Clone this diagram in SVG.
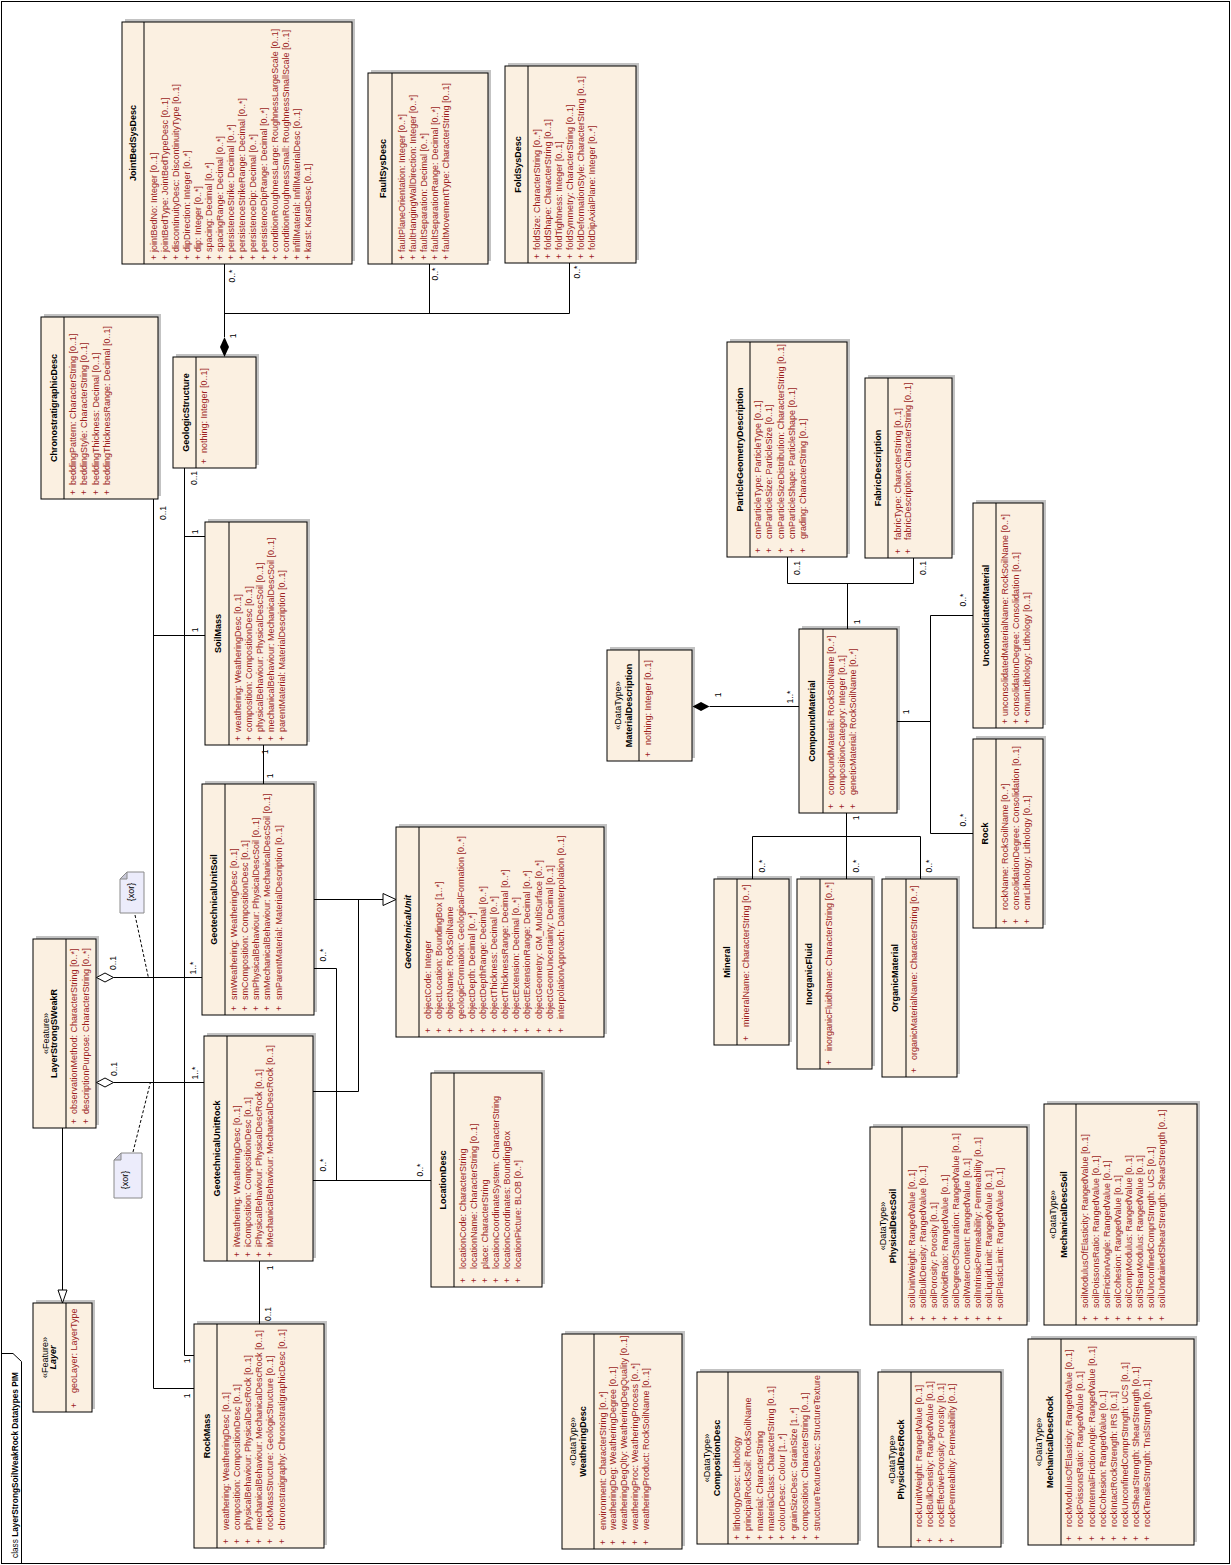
<svg xmlns="http://www.w3.org/2000/svg" width="1231" height="1565" viewBox="0 0 1231 1565" xml:space="preserve">
<defs>
<style>
text{font-family:"Liberation Sans",Arial,sans-serif;font-size:9px}
.bx{fill:#fbf0e1;stroke:#000;stroke-width:1}
.sh{fill:#c3c3c3}
.dv{stroke:#000;stroke-width:1}
.t{font-weight:bold;text-anchor:middle;fill:#000}
.ti{font-weight:bold;font-style:italic;text-anchor:middle;fill:#000}
.s{text-anchor:middle;fill:#000}
.a{fill:#9c1e1e}
.c{fill:none;stroke:#000;stroke-width:1}
.h{fill:#fff;stroke:#000;stroke-width:1}
.l{text-anchor:middle;fill:#000;font-size:8.5px}
.nt{fill:#ececfb;stroke:#8a8a8a}
.nf{fill:#c8c8d8;stroke:#8a8a8a}
.dash{fill:none;stroke:#000;stroke-dasharray:3,2}
</style>
<clipPath id="cpComp"><rect x="0" y="0" width="172" height="161"/></clipPath>
</defs>
<rect width="1231" height="1565" fill="#fff"/>
<g id="frame">
<rect x="1.5" y="1.5" width="1228" height="1562" fill="none" stroke="#000"/>
<path d="M21.5,1563.5 V1361.5 L13,1353.5 H1.5" fill="none" stroke="#000"/>
<text transform="translate(18,1558) rotate(-90)" font-size="8.5px" textLength="186" lengthAdjust="spacingAndGlyphs">class <tspan font-weight="bold">LayerStrongSoilWeakRock Datatypes PIM</tspan></text>
</g>

<g id="JoinBedSysDesc" transform="translate(122,264) rotate(-90)">
<rect class="sh" x="3" y="3" width="242" height="230"/>
<rect class="bx" width="242" height="230"/>
<line class="dv" x1="0" y1="22" x2="242" y2="22"/>
<text class="t" x="121" y="14">JointBedSysDesc</text>
<text class="a" x="4" y="35">+<tspan x="12">jointBedNo:  Integer [0..1]</tspan></text>
<text class="a" x="4" y="46">+<tspan x="12">jointBedType:  JointBedTypeDesc [0..1]</tspan></text>
<text class="a" x="4" y="57">+<tspan x="12">discontinuityDesc:  DiscontinuityType [0..1]</tspan></text>
<text class="a" x="4" y="68">+<tspan x="12">dipDirection:  Integer [0..*]</tspan></text>
<text class="a" x="4" y="79">+<tspan x="12">dip:  Integer [0..*]</tspan></text>
<text class="a" x="4" y="90">+<tspan x="12">spacing:  Decimal [0..*]</tspan></text>
<text class="a" x="4" y="101">+<tspan x="12">spacingRange:  Decimal [0..*]</tspan></text>
<text class="a" x="4" y="112">+<tspan x="12">persistenceStrike:  Decimal [0..*]</tspan></text>
<text class="a" x="4" y="123">+<tspan x="12">persistenceStrikeRange:  Decimal [0..*]</tspan></text>
<text class="a" x="4" y="134">+<tspan x="12">persistenceDip:  Decimal [0..*]</tspan></text>
<text class="a" x="4" y="145">+<tspan x="12">persistenceDipRange:  Decimal [0..*]</tspan></text>
<text class="a" x="4" y="156">+<tspan x="12">conditionRoughnessLarge:  RoughnessLargeScale [0..1]</tspan></text>
<text class="a" x="4" y="167">+<tspan x="12">conditionRoughnessSmall:  RoughnessSmallScale [0..1]</tspan></text>
<text class="a" x="4" y="178">+<tspan x="12">infillMaterial:  InfillMaterialDesc [0..1]</tspan></text>
<text class="a" x="4" y="189">+<tspan x="12">karst:  KarstDesc [0..1]</tspan></text>
</g>

<g id="FaultSysDesc" transform="translate(368,264) rotate(-90)">
<rect class="sh" x="3" y="3" width="191" height="120"/>
<rect class="bx" width="191" height="120"/>
<line class="dv" x1="0" y1="24" x2="191" y2="24"/>
<text class="t" x="95.5" y="18">FaultSysDesc</text>
<text class="a" x="4" y="37">+<tspan x="12">faultPlaneOrientation:  Integer [0..*]</tspan></text>
<text class="a" x="4" y="48">+<tspan x="12">faultHangingWallDirection:  Integer [0..*]</tspan></text>
<text class="a" x="4" y="59">+<tspan x="12">faultSeparation:  Decimal [0..*]</tspan></text>
<text class="a" x="4" y="70">+<tspan x="12">faultSeparationRange:  Decimal [0..*]</tspan></text>
<text class="a" x="4" y="81">+<tspan x="12">faultMovementType:  CharacterString [0..1]</tspan></text>
</g>

<g id="FoldSysDesc" transform="translate(505,263) rotate(-90)">
<rect class="sh" x="3" y="3" width="197" height="131"/>
<rect class="bx" width="197" height="131"/>
<line class="dv" x1="0" y1="23" x2="197" y2="23"/>
<text class="t" x="98.5" y="16">FoldSysDesc</text>
<text class="a" x="4" y="35">+<tspan x="13">foldSize:  CharacterString [0..*]</tspan></text>
<text class="a" x="4" y="46">+<tspan x="13">foldShape:  CharacterString [0..1]</tspan></text>
<text class="a" x="4" y="57">+<tspan x="13">foldTightness:  Integer [0..1]</tspan></text>
<text class="a" x="4" y="68">+<tspan x="13">foldSymmetry:  CharacterString [0..1]</tspan></text>
<text class="a" x="4" y="79">+<tspan x="13">foldDeformationStyle:  CharacterString [0..1]</tspan></text>
<text class="a" x="4" y="90">+<tspan x="13">foldDipAxialPlane:  Integer [0..*]</tspan></text>
</g>

<g id="ChronostratigraphicDesc" transform="translate(41,499) rotate(-90)">
<rect class="sh" x="3" y="3" width="182" height="117"/>
<rect class="bx" width="182" height="117"/>
<line class="dv" x1="0" y1="23" x2="182" y2="23"/>
<text class="t" x="91" y="16">ChronostratigraphicDesc</text>
<text class="a" x="4" y="35">+<tspan x="14">beddingPattern:  CharacterString [0..1]</tspan></text>
<text class="a" x="4" y="46">+<tspan x="14">beddingStyle:  CharacterString [0..1]</tspan></text>
<text class="a" x="4" y="58">+<tspan x="14">beddingThickness:  Decimal [0..1]</tspan></text>
<text class="a" x="4" y="69">+<tspan x="14">beddingThicknessRange:  Decimal [0..1]</tspan></text>
</g>

<g id="GeologicStructure" transform="translate(173,468) rotate(-90)">
<rect class="sh" x="3" y="3" width="111" height="83"/>
<rect class="bx" width="111" height="83"/>
<line class="dv" x1="0" y1="23" x2="111" y2="23"/>
<text class="t" x="55.5" y="16">GeologicStructure</text>
<text class="a" x="4" y="34">+<tspan x="15">nothing:  Integer [0..1]</tspan></text>
</g>

<g id="SoilMass" transform="translate(205,745) rotate(-90)">
<rect class="sh" x="3" y="3" width="223" height="102"/>
<rect class="bx" width="223" height="102"/>
<line class="dv" x1="0" y1="24" x2="223" y2="24"/>
<text class="t" x="111.5" y="16">SoilMass</text>
<text class="a" x="4" y="35.5">+<tspan x="13">weathering:  WeatheringDesc [0..1]</tspan></text>
<text class="a" x="4" y="46.5">+<tspan x="13">composition:  CompositionDesc [0..1]</tspan></text>
<text class="a" x="4" y="58">+<tspan x="13">physicalBehaviour:  PhysicalDescSoil [0..1]</tspan></text>
<text class="a" x="4" y="69">+<tspan x="13">mechanicalBehaviour:  MechanicalDescSoil [0..1]</tspan></text>
<text class="a" x="4" y="80">+<tspan x="13">parentMaterial:  MaterialDescription [0..1]</tspan></text>
</g>

<g id="GeotechnicalUnitSoil" transform="translate(202,1015) rotate(-90)">
<rect class="sh" x="3" y="3" width="231" height="112"/>
<rect class="bx" width="231" height="112"/>
<line class="dv" x1="0" y1="23" x2="231" y2="23"/>
<text class="t" x="115.5" y="15">GeotechnicalUnitSoil</text>
<text class="a" x="4" y="34.5">+<tspan x="15">smWeathering:  WeatheringDesc [0..1]</tspan></text>
<text class="a" x="4" y="45.7">+<tspan x="15">smComposition:  CompositionDesc [0..1]</tspan></text>
<text class="a" x="4" y="57">+<tspan x="15">smPhysicalBehaviour:  PhysicalDescSoil [0..1]</tspan></text>
<text class="a" x="4" y="68.2">+<tspan x="15">smMechanicalBehaviour:  MechanicalDescSoil [0..1]</tspan></text>
<text class="a" x="4" y="79.5">+<tspan x="15">smParentMaterial:  MaterialDescription [0..1]</tspan></text>
</g>

<g id="GeotechnicalUnit" transform="translate(396,1037) rotate(-90)">
<rect class="sh" x="3" y="3" width="210" height="208"/>
<rect class="bx" width="210" height="208"/>
<line class="dv" x1="0" y1="23" x2="210" y2="23"/>
<text class="ti" x="105" y="15">GeotechnicalUnit</text>
<text class="a" x="4" y="34.5">+<tspan x="18">objectCode:  Integer</tspan></text>
<text class="a" x="4" y="45.6">+<tspan x="18">objectLocation:  BoundingBox [1..*]</tspan></text>
<text class="a" x="4" y="56.7">+<tspan x="18">objectName:  RockSoilName</tspan></text>
<text class="a" x="4" y="67.8">+<tspan x="18">geologicFormation:  GeologicalFormation [0..*]</tspan></text>
<text class="a" x="4" y="78.9">+<tspan x="18">objectDepth:  Decimal [0..*]</tspan></text>
<text class="a" x="4" y="90">+<tspan x="18">objectDepthRange:  Decimal [0..*]</tspan></text>
<text class="a" x="4" y="101.1">+<tspan x="18">objectThickness:  Decimal [0..*]</tspan></text>
<text class="a" x="4" y="112.2">+<tspan x="18">objectThicknessRange:  Decimal [0..*]</tspan></text>
<text class="a" x="4" y="123.3">+<tspan x="18">objectExtension:  Decimal [0..*]</tspan></text>
<text class="a" x="4" y="134.4">+<tspan x="18">objectExtensionRange:  Decimal [0..*]</tspan></text>
<text class="a" x="4" y="145.5">+<tspan x="18">objectGeometry:  GM_MultiSurface [0..*]</tspan></text>
<text class="a" x="4" y="156.6">+<tspan x="18">objectGeomUncertainty:  Decimal [0..1]</tspan></text>
<text class="a" x="4" y="167.7">+<tspan x="18">interpolationApproach:  DataInterpolation [0..1]</tspan></text>
</g>

<g id="LayerStrongSWeakR" transform="translate(33,1128) rotate(-90)">
<rect class="sh" x="3" y="3" width="189" height="63"/>
<rect class="bx" width="189" height="63"/>
<line class="dv" x1="0" y1="33" x2="189" y2="33"/>
<text class="s" x="94.5" y="15.7">«Feature»</text>
<text class="t" x="94.5" y="24.3">LayerStrongSWeakR</text>
<text class="a" x="4" y="44.3">+<tspan x="14">observationMethod:  CharacterString [0..*]</tspan></text>
<text class="a" x="4" y="55.5">+<tspan x="14">descriptionPurpose:  CharacterString [0..*]</tspan></text>
</g>

<g id="GeotechnicalUnitRock" transform="translate(204,1261) rotate(-90)">
<rect class="sh" x="3" y="3" width="225" height="109"/>
<rect class="bx" width="225" height="109"/>
<line class="dv" x1="0" y1="23" x2="225" y2="23"/>
<text class="t" x="112.5" y="16">GeotechnicalUnitRock</text>
<text class="a" x="4" y="35.7">+<tspan x="14">iWeathering:  WeatheringDesc [0..1]</tspan></text>
<text class="a" x="4" y="46.8">+<tspan x="14">iComposition:  CompositionDesc [0..1]</tspan></text>
<text class="a" x="4" y="57.9">+<tspan x="14">iPhysicalBehaviour:  PhysicalDescRock [0..1]</tspan></text>
<text class="a" x="4" y="69">+<tspan x="14">iMechanicalBehaviour:  MechanicalDescRock [0..1]</tspan></text>
</g>

<g id="LocationDesc" transform="translate(431,1287) rotate(-90)">
<rect class="sh" x="3" y="3" width="214" height="111"/>
<rect class="bx" width="214" height="111"/>
<line class="dv" x1="0" y1="23" x2="214" y2="23"/>
<text class="t" x="107" y="15">LocationDesc</text>
<text class="a" x="4" y="34.7">+<tspan x="18">locationCode:  CharacterString</tspan></text>
<text class="a" x="4" y="45.8">+<tspan x="18">locationName:  CharacterString [0..1]</tspan></text>
<text class="a" x="4" y="56.9">+<tspan x="18">place:  CharacterString</tspan></text>
<text class="a" x="4" y="68">+<tspan x="18">locationCoordinateSystem:  CharacterString</tspan></text>
<text class="a" x="4" y="79.1">+<tspan x="18">locationCoordinates:  BoundingBox</tspan></text>
<text class="a" x="4" y="90.2">+<tspan x="18">locationPicture:  BLOB [0..*]</tspan></text>
</g>

<g id="Layer" transform="translate(33,1412) rotate(-90)">
<rect class="sh" x="3" y="3" width="109" height="59"/>
<rect class="bx" width="109" height="59"/>
<line class="dv" x1="0" y1="33" x2="109" y2="33"/>
<text class="s" x="54.5" y="15">«Feature»</text>
<text class="ti" x="54.5" y="23.3">Layer</text>
<text class="a" x="4" y="44">+<tspan x="19">geoLayer:  LayerType</tspan></text>
</g>

<g id="RockMass" transform="translate(194,1548) rotate(-90)">
<rect class="sh" x="3" y="3" width="224" height="130"/>
<rect class="bx" width="224" height="130"/>
<line class="dv" x1="0" y1="23" x2="224" y2="23"/>
<text class="t" x="112" y="16">RockMass</text>
<text class="a" x="4" y="35">+<tspan x="18">weathering:  WeatheringDesc [0..1]</tspan></text>
<text class="a" x="4" y="46.1">+<tspan x="18">composition:  CompositionDesc [0..1]</tspan></text>
<text class="a" x="4" y="57.2">+<tspan x="18">physicalBehaviour:  PhysicalDescRock [0..1]</tspan></text>
<text class="a" x="4" y="68.3">+<tspan x="18">mechanicalBehaviour:  MechanicalDescRock [0..1]</tspan></text>
<text class="a" x="4" y="79.4">+<tspan x="18">rockMassStructure:  GeologicStructure [0..1]</tspan></text>
<text class="a" x="4" y="90.5">+<tspan x="18">chronostratigraphy:  ChronostratigraphicDesc [0..1]</tspan></text>
</g>

<g id="WeatheringDesc" transform="translate(562,1549) rotate(-90)">
<rect class="sh" x="3" y="3" width="215" height="120"/>
<rect class="bx" width="215" height="120"/>
<line class="dv" x1="0" y1="32" x2="215" y2="32"/>
<text class="s" x="107.5" y="14.3">«DataType»</text>
<text class="t" x="107.5" y="24.3">WeatheringDesc</text>
<text class="a" x="4" y="43.7">+<tspan x="19">environment:  CharacterString [0..*]</tspan></text>
<text class="a" x="4" y="54.4">+<tspan x="19">weatheringDeg:  WeatheringDegree [0..1]</tspan></text>
<text class="a" x="4" y="65.2">+<tspan x="19">weatheringDegQlty:  WeatheringDegQuality [0..1]</tspan></text>
<text class="a" x="4" y="75.9">+<tspan x="19">weatheringProc:  WeatheringProcess [0..*]</tspan></text>
<text class="a" x="4" y="86.7">+<tspan x="19">weatheringProduct:  RockSoilName [0..1]</tspan></text>
</g>

<g id="CompositionDesc" transform="translate(697,1544) rotate(-90)">
<rect class="sh" x="3" y="3" width="172" height="161"/>
<rect class="bx" width="172" height="161"/>
<line class="dv" x1="0" y1="31" x2="172" y2="31"/>
<text class="s" x="86" y="12.7">«DataType»</text>
<text class="t" x="86" y="23.3">CompositionDesc</text>
<g clip-path="url(#cpComp)">
<text class="a" x="4" y="42.7">+<tspan x="13">lithologyDesc:  Lithology</tspan></text>
<text class="a" x="4" y="54.1">+<tspan x="13">principalRockSoil:  RockSoilName</tspan></text>
<text class="a" x="4" y="65.5">+<tspan x="13">material:  CharacterString</tspan></text>
<text class="a" x="4" y="76.9">+<tspan x="13">materialClass:  CharacterString [0..1]</tspan></text>
<text class="a" x="4" y="88.3">+<tspan x="13">colourDesc:  Colour [1..*]</tspan></text>
<text class="a" x="4" y="99.7">+<tspan x="13">grainSizeDesc:  GrainSize [1..*]</tspan></text>
<text class="a" x="4" y="111.1">+<tspan x="13">composition:  CharacterString [0..1]</tspan></text>
<text class="a" x="4" y="122.5">+<tspan x="13">structureTextureDesc:  StructureTexture</tspan></text>
</g>
</g>

<g id="PhysicalDescRock" transform="translate(878,1547) rotate(-90)">
<rect class="sh" x="3" y="3" width="175" height="123"/>
<rect class="bx" width="175" height="123"/>
<line class="dv" x1="0" y1="33" x2="175" y2="33"/>
<text class="s" x="87.5" y="16.7">«DataType»</text>
<text class="t" x="87.5" y="25.7">PhysicalDescRock</text>
<text class="a" x="4" y="44.3">+<tspan x="20">rockUnitWeight:  RangedValue [0..1]</tspan></text>
<text class="a" x="4" y="55.1">+<tspan x="20">rockBulkDensity:  RangedValue [0..1]</tspan></text>
<text class="a" x="4" y="65.9">+<tspan x="20">rockEffectivePorosity:  Porosity [0..1]</tspan></text>
<text class="a" x="4" y="76.7">+<tspan x="20">rockPermeability:  Permeability [0..1]</tspan></text>
</g>

<g id="MechanicalDescRock" transform="translate(1028,1545) rotate(-90)">
<rect class="sh" x="3" y="3" width="206" height="166"/>
<rect class="bx" width="206" height="166"/>
<line class="dv" x1="0" y1="33" x2="206" y2="33"/>
<text class="s" x="103" y="14.3">«DataType»</text>
<text class="t" x="103" y="25">MechanicalDescRock</text>
<text class="a" x="4" y="44.3">+<tspan x="18">rockModulusOfElasticity:  RangedValue [0..1]</tspan></text>
<text class="a" x="4" y="55.4">+<tspan x="18">rockPoissonsRatio:  RangedValue [0..1]</tspan></text>
<text class="a" x="4" y="66.6">+<tspan x="18">rockInternalFrictionAngle:  RangedValue [0..1]</tspan></text>
<text class="a" x="4" y="77.7">+<tspan x="18">rockCohesion:  RangedValue [0..1]</tspan></text>
<text class="a" x="4" y="88.9">+<tspan x="18">rockIntactRockStrength:  IRS [0..1]</tspan></text>
<text class="a" x="4" y="100">+<tspan x="18">rockUnconfinedComprStrngth:  UCS [0..1]</tspan></text>
<text class="a" x="4" y="111.1">+<tspan x="18">rockShearStrength:  ShearStrength [0..1]</tspan></text>
<text class="a" x="4" y="122.3">+<tspan x="18">rockTensileStrngth:  TnslStrngth [0..1]</tspan></text>
</g>

<g id="PhysicalDescSoil" transform="translate(870,1325) rotate(-90)">
<rect class="sh" x="3" y="3" width="198" height="157"/>
<rect class="bx" width="198" height="157"/>
<line class="dv" x1="0" y1="32" x2="198" y2="32"/>
<text class="s" x="99" y="16.3">«DataType»</text>
<text class="t" x="99" y="25.7">PhysicalDescSoil</text>
<text class="a" x="4" y="44.7">+<tspan x="17">soilUnitWeight:  RangedValue [0..1]</tspan></text>
<text class="a" x="4" y="55.7">+<tspan x="17">soilBulkDensity:  RangedValue [0..1]</tspan></text>
<text class="a" x="4" y="66.8">+<tspan x="17">soilPorosity:  Porosity [0..1]</tspan></text>
<text class="a" x="4" y="77.8">+<tspan x="17">soilVoidRatio:  RangedValue [0..1]</tspan></text>
<text class="a" x="4" y="88.9">+<tspan x="17">soilDegreeOfSaturation:  RangedValue [0..1]</tspan></text>
<text class="a" x="4" y="99.9">+<tspan x="17">soilWaterContent:  RangedValue [0..1]</tspan></text>
<text class="a" x="4" y="110.9">+<tspan x="17">soilIntrinsicPermeability:  Permeability [0..1]</tspan></text>
<text class="a" x="4" y="122">+<tspan x="17">soilLiquidLimit:  RangedValue [0..1]</tspan></text>
<text class="a" x="4" y="133">+<tspan x="17">soilPlasticLimit:  RangedValue [0..1]</tspan></text>
</g>

<g id="MechanicalDescSoil" transform="translate(1044,1325) rotate(-90)">
<rect class="sh" x="3" y="3" width="221" height="153"/>
<rect class="bx" width="221" height="153"/>
<line class="dv" x1="0" y1="32" x2="221" y2="32"/>
<text class="s" x="110.5" y="12.3">«DataType»</text>
<text class="t" x="110.5" y="23.3">MechanicalDescSoil</text>
<text class="a" x="4" y="44">+<tspan x="17">soilModulusOfElasticity:  RangedValue [0..1]</tspan></text>
<text class="a" x="4" y="55">+<tspan x="17">soilPoissonsRatio:  RangedValue [0..1]</tspan></text>
<text class="a" x="4" y="66.1">+<tspan x="17">soilFrictionAngle:  RangedValue [0..1]</tspan></text>
<text class="a" x="4" y="77.1">+<tspan x="17">soilCohesion:  RangedValue [0..1]</tspan></text>
<text class="a" x="4" y="88.2">+<tspan x="17">soilCompModulus:  RangedValue [0..1]</tspan></text>
<text class="a" x="4" y="99.2">+<tspan x="17">soilShearModulus:  RangedValue [0..1]</tspan></text>
<text class="a" x="4" y="110.2">+<tspan x="17">soilUnconfinedComprStrngth:  UCS [0..1]</tspan></text>
<text class="a" x="4" y="121.3">+<tspan x="17">soilUndrainedShearStrength:  ShearStrength [0..1]</tspan></text>
</g>

<g id="ParticleGeometryDescription" transform="translate(727,557) rotate(-90)">
<rect class="sh" x="3" y="3" width="215" height="120"/>
<rect class="bx" width="215" height="120"/>
<line class="dv" x1="0" y1="23" x2="215" y2="23"/>
<text class="t" x="107.5" y="16">ParticleGeometryDescription</text>
<text class="a" x="4" y="34.3">+<tspan x="18">cmParticleType:  ParticleType [0..1]</tspan></text>
<text class="a" x="4" y="45.4">+<tspan x="18">cmParticleSize:  ParticleSize [0..1]</tspan></text>
<text class="a" x="4" y="56.5">+<tspan x="18">cmParticleSizeDistribution:  CharacterString [0..1]</tspan></text>
<text class="a" x="4" y="67.6">+<tspan x="18">cmParticleShape:  ParticleShape [0..1]</tspan></text>
<text class="a" x="4" y="78.7">+<tspan x="18">grading:  CharacterString [0..1]</tspan></text>
</g>

<g id="FabricDescription" transform="translate(865,558) rotate(-90)">
<rect class="sh" x="3" y="3" width="180" height="87"/>
<rect class="bx" width="180" height="87"/>
<line class="dv" x1="0" y1="23" x2="180" y2="23"/>
<text class="t" x="90" y="15.7">FabricDescription</text>
<text class="a" x="4" y="35.7">+<tspan x="18">fabricType:  CharacterString [0..1]</tspan></text>
<text class="a" x="4" y="46.3">+<tspan x="18">fabricDescription:  CharacterString [0..1]</tspan></text>
</g>

<g id="UnconsolidatedMaterial" transform="translate(973,728) rotate(-90)">
<rect class="sh" x="3" y="3" width="225" height="70"/>
<rect class="bx" width="225" height="70"/>
<line class="dv" x1="0" y1="23" x2="225" y2="23"/>
<text class="t" x="112.5" y="16">UnconsolidatedMaterial</text>
<text class="a" x="4" y="35">+<tspan x="12">unconsolidatedMaterialName:  RockSoilName [0..*]</tspan></text>
<text class="a" x="4" y="46">+<tspan x="12">consolidationDegree:  Consolidation [0..1]</tspan></text>
<text class="a" x="4" y="56.7">+<tspan x="12">cmumLithology:  Lithology [0..1]</tspan></text>
</g>

<g id="Rock" transform="translate(973,928) rotate(-90)">
<rect class="sh" x="3" y="3" width="189" height="70"/>
<rect class="bx" width="189" height="70"/>
<line class="dv" x1="0" y1="23" x2="189" y2="23"/>
<text class="t" x="94.5" y="15">Rock</text>
<text class="a" x="4" y="35">+<tspan x="18">rockName:  RockSoilName [0..*]</tspan></text>
<text class="a" x="4" y="46">+<tspan x="18">consolidationDegree:  Consolidation [0..1]</tspan></text>
<text class="a" x="4" y="56.7">+<tspan x="18">cmrLithology:  Lithology [0..1]</tspan></text>
</g>

<g id="MaterialDescription" transform="translate(607,761) rotate(-90)">
<rect class="sh" x="3" y="3" width="111" height="85"/>
<rect class="bx" width="111" height="85"/>
<line class="dv" x1="0" y1="32" x2="111" y2="32"/>
<text class="s" x="55.5" y="14.3">«DataType»</text>
<text class="t" x="55.5" y="25.3">MaterialDescription</text>
<text class="a" x="4" y="44.3">+<tspan x="16">nothing:  Integer [0..1]</tspan></text>
</g>

<g id="CompoundMaterial" transform="translate(799,813) rotate(-90)">
<rect class="sh" x="3" y="3" width="184" height="98"/>
<rect class="bx" width="184" height="98"/>
<line class="dv" x1="0" y1="24" x2="184" y2="24"/>
<text class="t" x="92" y="15.7">CompoundMaterial</text>
<text class="a" x="4" y="35">+<tspan x="18">compoundMaterial:  RockSoilName [0..*]</tspan></text>
<text class="a" x="4" y="46.3">+<tspan x="18">compositionCategory:  Integer [0..1]</tspan></text>
<text class="a" x="4" y="57.3">+<tspan x="18">geneticMaterial:  RockSoilName [0..*]</tspan></text>
</g>

<g id="Mineral" transform="translate(714,1045) rotate(-90)">
<rect class="sh" x="3" y="3" width="166" height="75"/>
<rect class="bx" width="166" height="75"/>
<line class="dv" x1="0" y1="23" x2="166" y2="23"/>
<text class="t" x="83" y="15.7">Mineral</text>
<text class="a" x="4" y="34.7">+<tspan x="18">mineralName:  CharacterString [0..*]</tspan></text>
</g>

<g id="InorganicFluid" transform="translate(797,1069) rotate(-90)">
<rect class="sh" x="3" y="3" width="190" height="75"/>
<rect class="bx" width="190" height="75"/>
<line class="dv" x1="0" y1="23" x2="190" y2="23"/>
<text class="t" x="95" y="15.3">InorganicFluid</text>
<text class="a" x="4" y="35">+<tspan x="18">inorganicFluidName:  CharacterString [0..*]</tspan></text>
</g>

<g id="OrganicMaterial" transform="translate(882,1077) rotate(-90)">
<rect class="sh" x="3" y="3" width="198" height="75"/>
<rect class="bx" width="198" height="75"/>
<line class="dv" x1="0" y1="24" x2="198" y2="24"/>
<text class="t" x="99" y="16">OrganicMaterial</text>
<text class="a" x="4" y="35.3">+<tspan x="17">organicMaterialName:  CharacterString [0..*]</tspan></text>
</g>

<g id="note1" transform="translate(120,913) rotate(-90)">
<path class="nt" d="M0,0 H34 L41,7 V24 H0 Z"/>
<path class="nf" d="M34,0 V7 H41 Z"/>
<text class="s" x="21" y="13.5" font-size="8px">{xor}</text>
</g>
<g id="note2" transform="translate(114,1198) rotate(-90)">
<path class="nt" d="M0,0 H38 L45,7 V28 H0 Z"/>
<path class="nf" d="M38,0 V7 H45 Z"/>
<text class="s" x="18" y="13.5" font-size="8px">{xor}</text>
</g>

<g id="connectors">
<line class="c" x1="224.5" y1="264" x2="224.5" y2="337"/>
<polygon points="224.5,337 229,347 224.5,357 220,347" fill="#000"/>
<line class="c" x1="429.5" y1="264" x2="429.5" y2="313.5"/>
<polyline class="c" points="569.5,263 569.5,313.5 224.5,313.5"/>
<polyline class="c" points="153.5,499 153.5,1388.5 194,1388.5"/>
<line class="c" x1="153.5" y1="635.5" x2="205" y2="635.5"/>
<polyline class="c" points="184.5,468 184.5,1355.5 194,1355.5"/>
<line class="c" x1="184.5" y1="536.5" x2="205" y2="536.5"/>
<line class="c" x1="263.5" y1="745" x2="263.5" y2="784"/>
<polygon class="h" points="96.5,977.5 105,973 113.5,977.5 105,982"/>
<line class="c" x1="113.5" y1="977.5" x2="202" y2="977.5"/>
<polygon class="h" points="96.5,1082.5 105,1078 113.5,1082.5 105,1087"/>
<line class="c" x1="113.5" y1="1082.5" x2="204" y2="1082.5"/>
<line class="c" x1="314" y1="899.5" x2="383" y2="899.5"/>
<polygon class="h" points="383,893.5 396,899.5 383,905.5"/>
<polyline class="c" points="313,1091.5 358.5,1091.5 358.5,899.5"/>
<polyline class="c" points="314,968.5 336.5,968.5 336.5,1180.5"/>
<line class="c" x1="313" y1="1180.5" x2="431" y2="1180.5"/>
<line class="c" x1="259.5" y1="1261" x2="259.5" y2="1324"/>
<line class="c" x1="62.5" y1="1128" x2="62.5" y2="1290"/>
<polygon class="h" points="58,1290 67,1290 62.5,1303"/>
<polyline class="c" points="787.5,557 787.5,583.5 913.5,583.5 913.5,558"/>
<line class="c" x1="847.5" y1="583.5" x2="847.5" y2="629"/>
<polyline class="c" points="973,615.5 930.5,615.5 930.5,833.5 973,833.5"/>
<line class="c" x1="897" y1="721.5" x2="930.5" y2="721.5"/>
<polygon points="692.5,706.5 701,702 709.5,706.5 701,711" fill="#000"/>
<line class="c" x1="709.5" y1="706.5" x2="799" y2="706.5"/>
<line class="c" x1="846.5" y1="813" x2="846.5" y2="879"/>
<polyline class="c" points="752.5,879 752.5,836.5 920.5,836.5 920.5,879"/>
<line class="dash" x1="135" y1="915" x2="148.5" y2="978"/>
<line class="dash" x1="133" y1="1152" x2="150.5" y2="1082"/>
<text class="l" transform="translate(235,276) rotate(-90)">0..*</text>
<text class="l" transform="translate(438,274) rotate(-90)">0..*</text>
<text class="l" transform="translate(580,272) rotate(-90)">0..*</text>
<text class="l" transform="translate(236,336) rotate(-90)">1</text>
<text class="l" transform="translate(166,513) rotate(-90)">0..1</text>
<text class="l" transform="translate(197,478) rotate(-90)">0..1</text>
<text class="l" transform="translate(198,532) rotate(-90)">1</text>
<text class="l" transform="translate(198,630) rotate(-90)">1</text>
<text class="l" transform="translate(268,752) rotate(-90)">1</text>
<text class="l" transform="translate(273,776) rotate(-90)">1</text>
<text class="l" transform="translate(116,963) rotate(-90)">0..1</text>
<text class="l" transform="translate(196,968) rotate(-90)">1..*</text>
<text class="l" transform="translate(326,955) rotate(-90)">0..*</text>
<text class="l" transform="translate(117,1069) rotate(-90)">0..1</text>
<text class="l" transform="translate(198,1073) rotate(-90)">1..*</text>
<text class="l" transform="translate(326,1165) rotate(-90)">0..*</text>
<text class="l" transform="translate(423,1170) rotate(-90)">0..*</text>
<text class="l" transform="translate(273,1268) rotate(-90)">1</text>
<text class="l" transform="translate(271,1314) rotate(-90)">0..1</text>
<text class="l" transform="translate(190,1361) rotate(-90)">1</text>
<text class="l" transform="translate(190,1396) rotate(-90)">1</text>
<text class="l" transform="translate(800,568) rotate(-90)">0..1</text>
<text class="l" transform="translate(926,568) rotate(-90)">0..1</text>
<text class="l" transform="translate(860,622) rotate(-90)">1</text>
<text class="l" transform="translate(966,600) rotate(-90)">0..*</text>
<text class="l" transform="translate(909,712) rotate(-90)">1</text>
<text class="l" transform="translate(721,695) rotate(-90)">1</text>
<text class="l" transform="translate(793,697) rotate(-90)">1..*</text>
<text class="l" transform="translate(966,820) rotate(-90)">0..*</text>
<text class="l" transform="translate(859,818) rotate(-90)">1</text>
<text class="l" transform="translate(765,866) rotate(-90)">0..*</text>
<text class="l" transform="translate(859,866) rotate(-90)">0..*</text>
<text class="l" transform="translate(932,866) rotate(-90)">0..*</text>
</g>
</svg>
